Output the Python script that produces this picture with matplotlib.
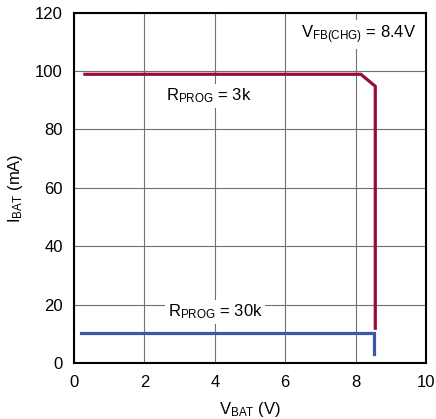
import matplotlib
matplotlib.use("Agg")
import matplotlib.pyplot as plt
from matplotlib import font_manager

fams = {f.name for f in font_manager.fontManager.ttflist}
font = 'Liberation Sans Narrow' if 'Liberation Sans Narrow' in fams else 'Liberation Sans'
plt.rcParams['font.family'] = [font, 'DejaVu Sans']
plt.rcParams['mathtext.fontset'] = 'custom'
plt.rcParams['mathtext.rm'] = font
plt.rcParams['mathtext.it'] = font

# data
v_3k = [0.31, 8.15, 8.56, 8.56]
i_3k = [98.9, 98.9, 94.8, 11.9]
v_30k = [0.19, 8.53, 8.53]
i_30k = [10.2, 10.2, 3.0]
xticks = [0, 2, 4, 6, 8, 10]
yticks = [0, 20, 40, 60, 80, 100, 120]

fig = plt.figure(figsize=(4.36, 4.19), dpi=100)
ax = fig.add_axes([0.1697, 0.1337, 0.977 - 0.1697, 0.9697 - 0.1337])

ax.plot(v_3k, i_3k, color='#9a0a3c', lw=2.3, solid_joinstyle='miter', zorder=3)
ax.plot(v_30k, i_30k, color='#3a5aa6', lw=2.3, solid_joinstyle='miter', zorder=3)

ax.set_xlim(0, 10)
ax.set_ylim(0, 120)
ax.set_xticks(xticks)
ax.set_yticks(yticks)
ax.grid(True, color='#707070', lw=0.8)
ax.tick_params(axis='x', length=0, labelsize=12, pad=9)
ax.tick_params(axis='y', length=0, labelsize=12, pad=8)
for s in ax.spines.values():
    s.set_linewidth(1.5)
    s.set_color('black')

bb = dict(facecolor='white', edgecolor='none', pad=2)
ax.text(6.45, 112.5, r'V$_{\mathrm{FB(CHG)}}$ = 8.4V', fontsize=12, va='center', ha='left', bbox=bb, zorder=4)
ax.text(2.6, 91.5, r'R$_{\mathrm{PROG}}$ = 3k', fontsize=12, va='center', ha='left', bbox=bb, zorder=4)
ax.text(2.66, 17.5, r'R$_{\mathrm{PROG}}$ = 30k', fontsize=12, va='center', ha='left', bbox=bb, zorder=4)

ax.set_xlabel(r'V$_{\mathrm{BAT}}$ (V)', fontsize=12, labelpad=7)
ax.set_ylabel(r'I$_{\mathrm{BAT}}$ (mA)', fontsize=12, labelpad=7)

fig.savefig('out.png', dpi=100)
